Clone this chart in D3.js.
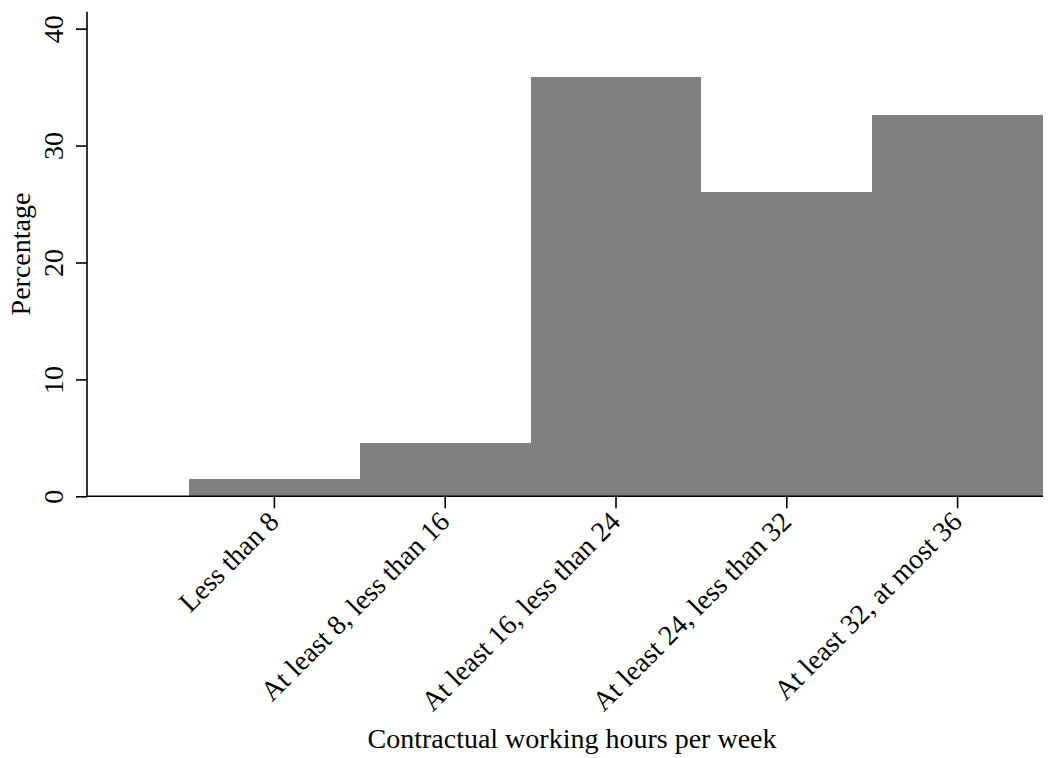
<!DOCTYPE html>
<html>
<head>
<meta charset="utf-8">
<script src="https://cdn.jsdelivr.net/npm/d3@7"></script>
<style>
  html, body { margin: 0; padding: 0; background: #fff; }
  svg { display: block; }
  text { font-family: "Liberation Serif", "Times New Roman", serif; fill: #000; }
</style>
</head>
<body>
<svg id="chart" width="1055" height="758"></svg>
<script>
const categories = [
  "Less than 8",
  "At least 8, less than 16",
  "At least 16, less than 24",
  "At least 24, less than 32",
  "At least 32, at most 36"
];
const percentages = [1.45, 4.55, 35.84, 26.03, 32.59];
const yTicks = [0, 10, 20, 30, 40];
const yMaxValue = 41.45;
const xTitle = "Contractual working hours per week";
const yTitle = "Percentage";

const svg = d3.select("#chart");
const axisLeftX = 87;
const y0px = 496.3;

const x = d3.scaleBand().domain(categories).range([189, 1043]).padding(0);
const y = d3.scaleLinear().domain([0, yMaxValue]).range([y0px, 11.7]);

// bars
svg.append("g").selectAll("rect")
  .data(categories.map((c, i) => ({ c, v: percentages[i] })))
  .join("rect")
  .attr("x", d => x(d.c))
  .attr("width", x.bandwidth())
  .attr("y", d => y(d.v))
  .attr("height", d => y(0) - y(d.v))
  .attr("fill", "#808080")
  .attr("shape-rendering", "crispEdges");

// y axis
const yAxis = d3.axisLeft(y).tickValues(yTicks).tickSize(11).tickSizeOuter(0).tickFormat(d3.format("d"));
const gy = svg.append("g").attr("transform", `translate(${axisLeftX},0)`).call(yAxis);
gy.select(".domain").remove();
gy.append("line").attr("x1", 0).attr("x2", 0).attr("y1", y(yMaxValue)).attr("y2", y(0))
  .attr("stroke", "#000").attr("stroke-width", 1.6);
gy.selectAll(".tick line").attr("stroke", "#000").attr("stroke-width", 1.6);
gy.selectAll(".tick text")
  .attr("font-size", 28)
  .attr("x", null).attr("dy", null)
  .attr("text-anchor", "middle")
  .attr("transform", "translate(-24,0) rotate(-90)")
  .attr("y", 0);

// x axis
const xAxis = d3.axisBottom(x).tickSize(12).tickSizeOuter(0);
const gx = svg.append("g").attr("transform", `translate(0,${y0px})`).call(xAxis);
gx.select(".domain").remove();
gx.append("line").attr("x1", axisLeftX).attr("x2", x.range()[1]).attr("y1", 0).attr("y2", 0)
  .attr("stroke", "#000").attr("stroke-width", 1.6);
gx.selectAll(".tick line").attr("stroke", "#000").attr("stroke-width", 1.6);
gx.selectAll(".tick text")
  .attr("font-size", 28)
  .attr("text-anchor", "end")
  .attr("y", null).attr("dy", null)
  .attr("transform", "translate(6,27) rotate(-45)");

// titles
svg.append("text")
  .attr("x", (axisLeftX + x.range()[1]) / 2 + 7)
  .attr("y", 748)
  .attr("text-anchor", "middle")
  .attr("font-size", 28)
  .text(xTitle);

svg.append("text")
  .attr("transform", `translate(30,${(y(yMaxValue) + y(0)) / 2}) rotate(-90)`)
  .attr("text-anchor", "middle")
  .attr("font-size", 28)
  .text(yTitle);
</script>
</body>
</html>
